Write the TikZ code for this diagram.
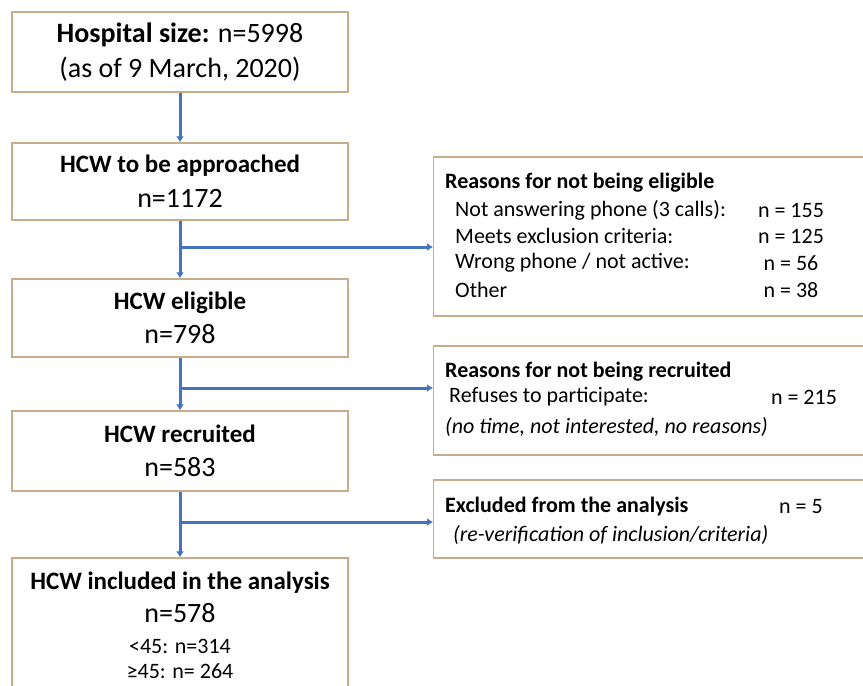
\documentclass[tikz,border=0pt]{standalone}
\usepackage{fontspec}
\setmainfont{Carlito}
\usetikzlibrary{arrows.meta}
\definecolor{box_tan}{RGB}{200,172,140}
\definecolor{arrow_blue}{RGB}{68,114,196}
\newcommand\sz[2]{\fontsize{#1}{#2}\selectfont}

\begin{document}
\begin{tikzpicture}[x=1pt,y=-1pt,>={Latex[length=6pt,width=8pt]}]
    \tikzstyle{box}=[draw=box_tan, line width=1.3pt, rectangle, minimum width=336pt, inner sep=0pt, align=center, text=black]
    \tikzstyle{reason}=[draw=box_tan, line width=1.3pt, rectangle, minimum width=447pt, inner sep=0pt, anchor=west]
    \tikzstyle{flow}=[->, draw=arrow_blue, line width=3pt]
    \tikzstyle{txt}=[anchor=west, inner sep=0pt, text=black, font=\sz{22}{27}]
    \tikzstyle{num}=[anchor=center, inner sep=0pt, text=black, font=\sz{22}{27}]

    \clip (0,0) rectangle (863,686);
    \fill[white] (0,0) rectangle (863,686);

    % main column
    \node[box, minimum height=80pt, font=\sz{28}{35}] (size) at (180,52)
      {\textbf{Hospital size:} n=5998\\(as of 9 March, 2020)};
    \node[box, minimum height=77pt, font=\sz{28}{35}] (appr) at (180,181.5)
      {{\sz{25}{30}\textbf{HCW to be approached}}\\n=1172};
    \node[box, minimum height=78pt, font=\sz{28}{34}] (elig) at (180,318)
      {{\sz{25}{30}\textbf{HCW eligible}}\\n=798};
    \node[box, minimum height=80pt, font=\sz{28}{34}] (recr) at (180,451)
      {{\sz{25}{30}\textbf{HCW recruited}}\\n=583};
    \node[box, minimum height=134pt, font=\sz{28}{33}] (incl) at (180,625)
      {{\sz{25}{30}\textbf{HCW included in the analysis}}\\n=578\\[-2pt]{\sz{22}{26}<45: n=314}\\[-8pt]{\sz{22}{26}≥45: n= 264}};

    % side boxes
    \node[reason, minimum height=159pt] (notelig) at (433,236.5) {};
    \node[reason, minimum height=109pt] (notrecr) at (433,400.5) {};
    \node[reason, minimum height=78pt] (excl) at (433,519) {};

    \node[txt] (ne0) at (445,183) {\textbf{Reasons for not being eligible}};
    \node[txt] (ne1) at (455,210) {Not answering phone (3 calls):};
    \node[txt] (ne2) at (455,236) {Meets exclusion criteria:};
    \node[txt] (ne3) at (455,263) {Wrong phone / not active:};
    \node[txt] (ne4) at (455,290) {Other};
    \node[num] (nn1) at (791,210) {n = 155};
    \node[num] (nn2) at (791,236) {n = 125};
    \node[num] (nn3) at (791,263) {n = 56};
    \node[num] (nn4) at (791,290) {n = 38};

    \node[txt] (nr0) at (445,372) {\textbf{Reasons for not being recruited}};
    \node[txt] (nr1) at (449,397) {Refuses to participate:};
    \node[num] (nr2) at (804,397) {n = 215};
    \node[txt] (nr3) at (445,427) {\textit{(no time, not interested, no reasons)}};

    \node[txt] (ex0) at (445,507) {\textbf{Excluded from the analysis}};
    \node[num] (ex1) at (801,507) {n = 5};
    \node[txt] (ex2) at (453,535) {\textit{(re-verification of inclusion/criteria)}};

    % connectors
    \coordinate (j1) at (180,247);
    \coordinate (j2) at (180,388);
    \coordinate (j3) at (180,522);
    \path
     (size) edge[flow] (appr)
     (appr) edge[flow] (elig)
     (elig) edge[flow] (recr)
     (recr) edge[flow] (incl)
     (j1) edge[flow] (j1 -| notelig.west)
     (j2) edge[flow] (j2 -| notrecr.west)
     (j3) edge[flow] (j3 -| excl.west)
     ;
\end{tikzpicture}
\end{document}
